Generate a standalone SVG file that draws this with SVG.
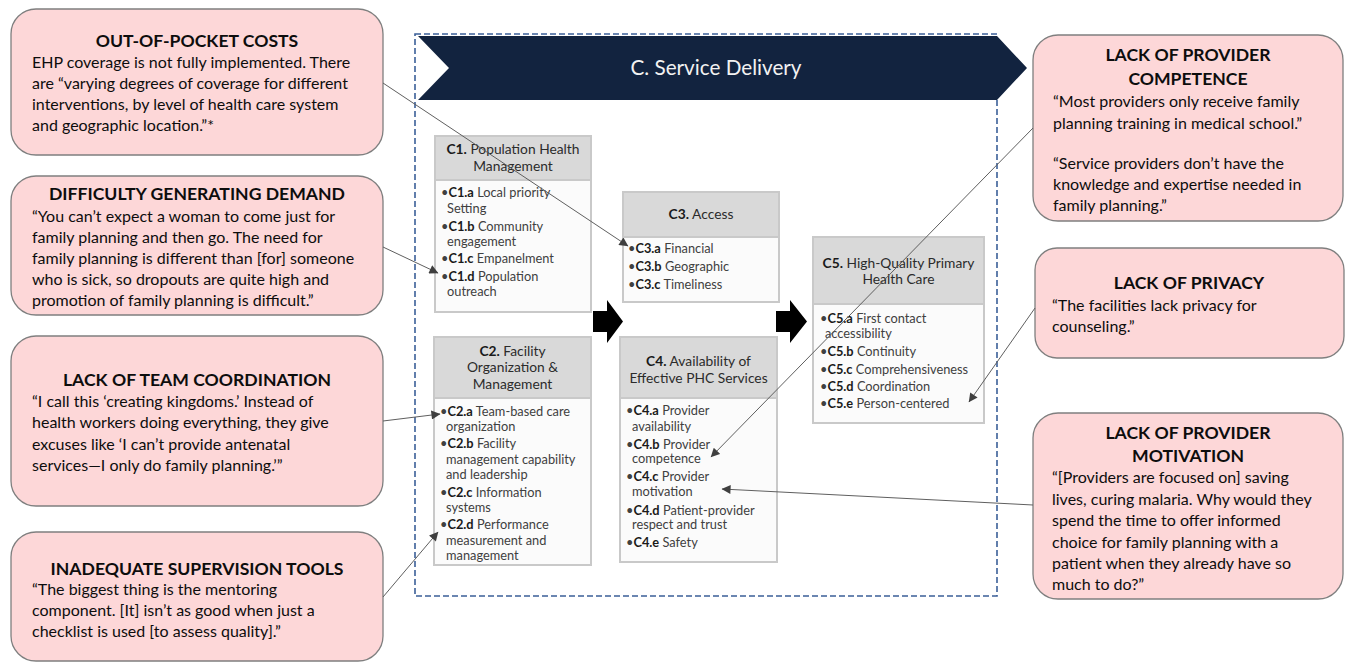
<svg xmlns="http://www.w3.org/2000/svg" width="1348" height="663" viewBox="0 0 1348 663">
  <defs>
    <marker id="tip" viewBox="0 0 10 10" refX="9.5" refY="5" markerWidth="10" markerHeight="9" markerUnits="userSpaceOnUse" orient="auto">
      <path d="M0,0 L10,5 L0,10 z" fill="#3f3f3f"/>
    </marker>
    <style>
      .callout rect { fill: #fdd7d8; stroke: #7f7f7f; stroke-width: 1.3; }
      .ttl { font-family: Lato, "Liberation Sans", sans-serif; font-weight: 700; font-size: 17.6px; fill: #0d0d0d; text-anchor: middle; }
      .bd { font-family: Lato, "Liberation Sans", sans-serif; font-size: 16px; fill: #0d0d0d; }
      .comp .frame { fill: #fbfbfb; stroke: #c9c9c9; stroke-width: 2; }
      .comp .head { fill: #d9d9d9; stroke: #c9c9c9; stroke-width: 2; }
      .hd { font-family: Lato, "Liberation Sans", sans-serif; font-size: 13.8px; fill: #2b2b2b; text-anchor: middle; }
      .it { font-family: Lato, "Liberation Sans", sans-serif; font-size: 12.8px; fill: #404040; }
      .it tspan.k, .hd tspan.k { font-weight: 700; fill: #1a1a1a; }
      .wire { stroke: #5f5f5f; stroke-width: 1; fill: none; marker-end: url(#tip); }
      .flow { fill: #000; }
    </style>
  </defs>

  <rect width="1348" height="663" fill="#ffffff"/>

  <!-- Service delivery frame and banner -->
  <g id="service-delivery">
    <rect x="415" y="34" width="582" height="562" fill="none" stroke="#3b5f98" stroke-width="1.6" stroke-dasharray="6 3"/>
    <polygon points="418,36 997,36 1027,68 997,100 418,100 449,68" fill="#12233f"/>
    <text x="716" y="75" font-family="Lato, 'Liberation Sans', sans-serif" font-size="20.7" fill="#f2f2f2" text-anchor="middle">C. Service Delivery</text>
  </g>

  <!-- Component boxes -->
  <g id="c1" class="comp">
    <rect class="frame" x="435" y="136" width="156" height="176"/>
    <rect class="head" x="435" y="136" width="156" height="44"/>
    <text class="hd" x="513" y="153.5"><tspan class="k">C1.</tspan> Population Health</text>
    <text class="hd" x="513" y="170.5">Management</text>
    <text class="it" x="441" y="197">•<tspan class="k">C1.a</tspan> Local priority</text>
    <text class="it" x="447" y="213">Setting</text>
    <text class="it" x="441" y="231">•<tspan class="k">C1.b</tspan> Community</text>
    <text class="it" x="447" y="246">engagement</text>
    <text class="it" x="441" y="263">•<tspan class="k">C1.c</tspan> Empanelment</text>
    <text class="it" x="441" y="281">•<tspan class="k">C1.d</tspan> Population</text>
    <text class="it" x="447" y="296">outreach</text>
  </g>

  <g id="c2" class="comp">
    <rect class="frame" x="434" y="337" width="157" height="228"/>
    <rect class="head" x="434" y="337" width="157" height="61"/>
    <text class="hd" x="512.5" y="355.5"><tspan class="k">C2.</tspan> Facility</text>
    <text class="hd" x="512.5" y="372">Organization &amp;</text>
    <text class="hd" x="512.5" y="388.5">Management</text>
    <text class="it" x="440" y="416">•<tspan class="k">C2.a</tspan> Team-based care</text>
    <text class="it" x="446" y="431">organization</text>
    <text class="it" x="440" y="448">•<tspan class="k">C2.b</tspan> Facility</text>
    <text class="it" x="446" y="464">management capability</text>
    <text class="it" x="446" y="479">and leadership</text>
    <text class="it" x="440" y="497">•<tspan class="k">C2.c</tspan> Information</text>
    <text class="it" x="446" y="512">systems</text>
    <text class="it" x="440" y="529">•<tspan class="k">C2.d</tspan> Performance</text>
    <text class="it" x="446" y="545">measurement and</text>
    <text class="it" x="446" y="560">management</text>
  </g>

  <g id="c3" class="comp">
    <rect class="frame" x="623" y="192" width="156" height="110"/>
    <rect class="head" x="623" y="192" width="156" height="45"/>
    <text class="hd" x="701" y="218.5"><tspan class="k">C3.</tspan> Access</text>
    <text class="it" x="628" y="253">•<tspan class="k">C3.a</tspan> Financial</text>
    <text class="it" x="628" y="271">•<tspan class="k">C3.b</tspan> Geographic</text>
    <text class="it" x="628" y="289">•<tspan class="k">C3.c</tspan> Timeliness</text>
  </g>

  <g id="c4" class="comp">
    <rect class="frame" x="620" y="337" width="157" height="225"/>
    <rect class="head" x="620" y="337" width="157" height="61"/>
    <text class="hd" x="698.5" y="365.5"><tspan class="k">C4.</tspan> Availability of</text>
    <text class="hd" x="698.5" y="382.5">Effective PHC Services</text>
    <text class="it" x="626" y="415">•<tspan class="k">C4.a</tspan> Provider</text>
    <text class="it" x="632" y="431">availability</text>
    <text class="it" x="626" y="449">•<tspan class="k">C4.b</tspan> Provider</text>
    <text class="it" x="632" y="463">competence</text>
    <text class="it" x="626" y="481">•<tspan class="k">C4.c</tspan> Provider</text>
    <text class="it" x="632" y="496">motivation</text>
    <text class="it" x="626" y="515">•<tspan class="k">C4.d</tspan> Patient-provider</text>
    <text class="it" x="632" y="529">respect and trust</text>
    <text class="it" x="626" y="547">•<tspan class="k">C4.e</tspan> Safety</text>
  </g>

  <g id="c5" class="comp">
    <rect class="frame" x="813" y="237" width="171" height="186"/>
    <rect class="head" x="813" y="237" width="171" height="67"/>
    <text class="hd" x="898.5" y="268"><tspan class="k">C5.</tspan> High-Quality Primary</text>
    <text class="hd" x="898.5" y="284">Health Care</text>
    <text class="it" x="820" y="323">•<tspan class="k">C5.a</tspan> First contact</text>
    <text class="it" x="825" y="338">accessibility</text>
    <text class="it" x="820" y="356">•<tspan class="k">C5.b</tspan> Continuity</text>
    <text class="it" x="820" y="374">•<tspan class="k">C5.c</tspan> Comprehensiveness</text>
    <text class="it" x="820" y="391">•<tspan class="k">C5.d</tspan> Coordination</text>
    <text class="it" x="820" y="408">•<tspan class="k">C5.e</tspan> Person-centered</text>
  </g>

  <!-- Flow arrows between columns -->
  <g id="flow-arrows">
    <polygon class="flow" points="593,311 607,311 607,300 623,321.5 607,343 607,332 593,332"/>
    <polygon class="flow" points="776,311 790,311 790,300 807,321.5 790,343 790,332 776,332"/>
  </g>

  <!-- Left callouts -->
  <g id="out-of-pocket" class="callout">
    <rect x="11" y="9" width="372" height="146" rx="25"/>
    <text class="ttl" x="197" y="47">OUT-OF-POCKET COSTS</text>
    <text class="bd" x="32" y="68">EHP coverage is not fully implemented. There</text>
    <text class="bd" x="32" y="89">are “varying degrees of coverage for different</text>
    <text class="bd" x="32" y="110">interventions, by level of health care system</text>
    <text class="bd" x="32" y="131">and geographic location.”*</text>
  </g>

  <g id="demand" class="callout">
    <rect x="11" y="176" width="372" height="139" rx="25"/>
    <text class="ttl" x="197" y="200">DIFFICULTY GENERATING DEMAND</text>
    <text class="bd" x="32" y="222">“You can’t expect a woman to come just for</text>
    <text class="bd" x="32" y="243">family planning and then go. The need for</text>
    <text class="bd" x="32" y="264">family planning is different than [for] someone</text>
    <text class="bd" x="32" y="285">who is sick, so dropouts are quite high and</text>
    <text class="bd" x="32" y="306">promotion of family planning is difficult.”</text>
  </g>

  <g id="team-coordination" class="callout">
    <rect x="11" y="336" width="372" height="170" rx="25"/>
    <text class="ttl" x="197" y="386">LACK OF TEAM COORDINATION</text>
    <text class="bd" x="32" y="407">“I call this ‘creating kingdoms.’ Instead of</text>
    <text class="bd" x="32" y="428">health workers doing everything, they give</text>
    <text class="bd" x="32" y="450">excuses like ‘I can’t provide antenatal</text>
    <text class="bd" x="32" y="471">services—I only do family planning.’”</text>
  </g>

  <g id="supervision" class="callout">
    <rect x="11" y="532" width="372" height="129" rx="25"/>
    <text class="ttl" x="197" y="575">INADEQUATE SUPERVISION TOOLS</text>
    <text class="bd" x="32" y="595">“The biggest thing is the mentoring</text>
    <text class="bd" x="32" y="616">component. [It] isn’t as good when just a</text>
    <text class="bd" x="32" y="637">checklist is used [to assess quality].”</text>
  </g>

  <!-- Right callouts -->
  <g id="competence" class="callout">
    <rect x="1033" y="35" width="310" height="186" rx="25"/>
    <text class="ttl" x="1188" y="61">LACK OF PROVIDER</text>
    <text class="ttl" x="1188" y="85">COMPETENCE</text>
    <text class="bd" x="1053" y="107">“Most providers only receive family</text>
    <text class="bd" x="1053" y="129">planning training in medical school.”</text>
    <text class="bd" x="1053" y="169">“Service providers don’t have the</text>
    <text class="bd" x="1053" y="190">knowledge and expertise needed in</text>
    <text class="bd" x="1053" y="211">family planning.”</text>
  </g>

  <g id="privacy" class="callout">
    <rect x="1035" y="248" width="309" height="110" rx="22"/>
    <text class="ttl" x="1189" y="289">LACK OF PRIVACY</text>
    <text class="bd" x="1052" y="311">“The facilities lack privacy for</text>
    <text class="bd" x="1052" y="332">counseling.”</text>
  </g>

  <g id="motivation" class="callout">
    <rect x="1033" y="413" width="310" height="186" rx="25"/>
    <text class="ttl" x="1188" y="439">LACK OF PROVIDER</text>
    <text class="ttl" x="1188" y="462">MOTIVATION</text>
    <text class="bd" x="1052" y="483">“[Providers are focused on] saving</text>
    <text class="bd" x="1052" y="505">lives, curing malaria. Why would they</text>
    <text class="bd" x="1052" y="526">spend the time to offer informed</text>
    <text class="bd" x="1052" y="548">choice for family planning with a</text>
    <text class="bd" x="1052" y="569">patient when they already have so</text>
    <text class="bd" x="1052" y="590">much to do?”</text>
  </g>

  <!-- Connectors from barriers to components -->
  <g id="connectors">
    <line class="wire" x1="383" y1="83" x2="628" y2="246"/>
    <line class="wire" x1="383" y1="247" x2="438" y2="273"/>
    <line class="wire" x1="383" y1="421" x2="440" y2="414"/>
    <line class="wire" x1="383" y1="597" x2="438" y2="532"/>
    <line class="wire" x1="1033" y1="128" x2="711" y2="457"/>
    <line class="wire" x1="1035" y1="308" x2="969" y2="402"/>
    <line class="wire" x1="1033" y1="505" x2="722" y2="489"/>
  </g>
</svg>
